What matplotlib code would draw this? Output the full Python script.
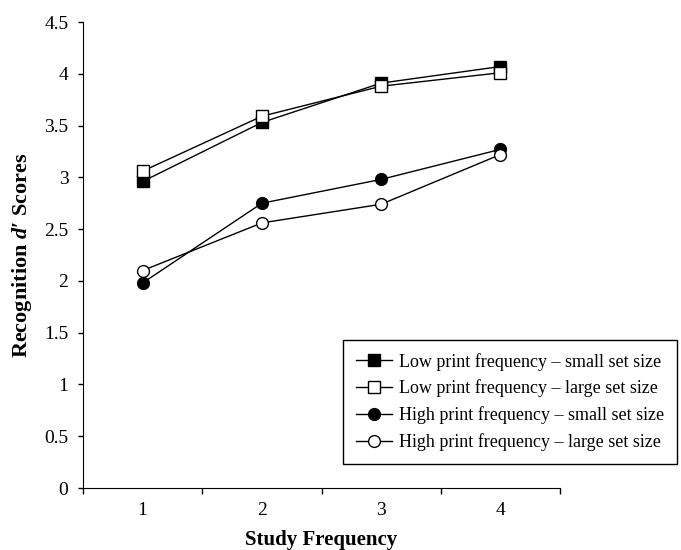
import numpy as np
import matplotlib
matplotlib.use('Agg')
import matplotlib.pyplot as plt
from matplotlib.ticker import FixedLocator, NullFormatter

plt.rcParams['font.family'] = ['Liberation Serif', 'DejaVu Serif']
plt.rcParams['mathtext.fontset'] = 'custom'
plt.rcParams['mathtext.rm'] = 'Liberation Serif:bold'
plt.rcParams['mathtext.it'] = 'Liberation Serif:italic:bold'
plt.rcParams['mathtext.bf'] = 'Liberation Serif:bold'

study_freq = [1, 2, 3, 4]
low_small = [2.96, 3.53, 3.91, 4.07]
low_large = [3.06, 3.59, 3.88, 4.01]
high_small = [1.98, 2.75, 2.98, 3.27]
high_large = [2.10, 2.56, 2.74, 3.22]
y_ticks = [0, 0.5, 1, 1.5, 2, 2.5, 3, 3.5, 4, 4.5]

fig = plt.figure(figsize=(6.81, 5.5), dpi=100)
ax = fig.add_axes([0.1219, 0.1127, 0.7004, 0.8473])

# squares: filled / open, circles: filled / open
ax.plot(study_freq, low_small, color='black', linewidth=1, marker='s', markersize=8.5,
        markerfacecolor='black', markeredgecolor='black', label='Low print frequency \u2013 small set size')
ax.plot(study_freq, low_large, color='black', linewidth=1, marker='s', markersize=8.5,
        markerfacecolor='white', markeredgecolor='black', label='Low print frequency \u2013 large set size')
ax.plot(study_freq, high_small, color='black', linewidth=1, marker='o', markersize=8.5,
        markerfacecolor='black', markeredgecolor='black', label='High print frequency \u2013 small set size')
ax.plot(study_freq, high_large, color='black', linewidth=1, marker='o', markersize=8.5,
        markerfacecolor='white', markeredgecolor='black', label='High print frequency \u2013 large set size')

ax.set_xlim(0.5, 4.5)
ax.set_ylim(0, 4.5)
ax.set_yticks(y_ticks)
ax.set_yticklabels([f'{v:g}' for v in y_ticks])
ax.set_xticks(study_freq)
ax.xaxis.set_minor_locator(FixedLocator([0.5, 1.5, 2.5, 3.5, 4.5]))
ax.xaxis.set_minor_formatter(NullFormatter())
ax.tick_params(axis='x', which='major', length=0, labelsize=14, pad=10)
ax.tick_params(axis='x', which='minor', length=4, width=1, direction='out')
ax.tick_params(axis='y', length=3.5, width=1, direction='out', labelsize=14, pad=7)

ax.spines['top'].set_visible(False)
ax.spines['right'].set_visible(False)

ax.set_xlabel('Study Frequency', fontsize=15, fontweight='bold', labelpad=8)
ax.set_ylabel('Recognition $d$\u2032 Scores', fontsize=16, fontweight='bold', labelpad=7)

leg = ax.legend(loc='upper left', bbox_to_anchor=(343 / 681, 1 - 340 / 550),
                bbox_transform=fig.transFigure, borderaxespad=0, fontsize=13,
                fancybox=False, edgecolor='black', framealpha=1, handlelength=2.0,
                borderpad=0.7, labelspacing=0.5, handletextpad=0.4)
leg.get_frame().set_linewidth(1)

fig.savefig('out.png', dpi=100)
